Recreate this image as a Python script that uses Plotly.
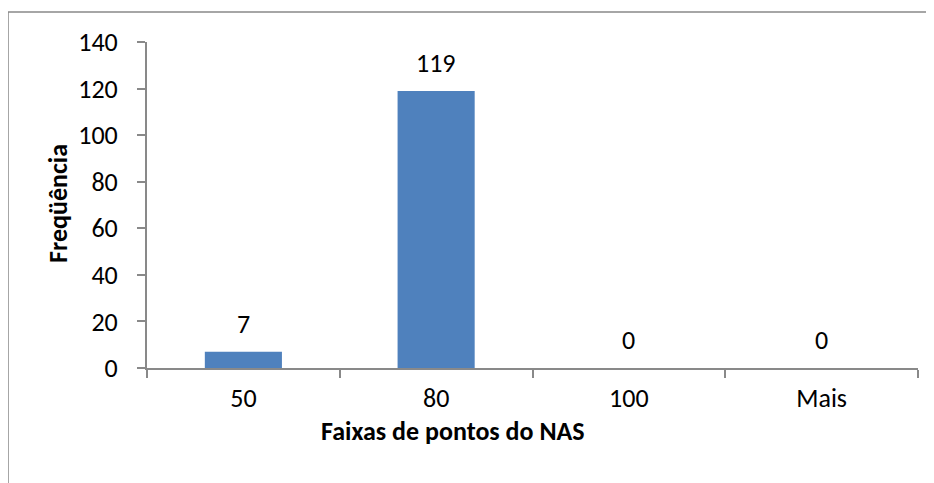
import plotly.graph_objects as go

categorias = ["50", "80", "100", "Mais"]
frequencia = [7, 119, 0, 0]
y_ticks = [0, 20, 40, 60, 80, 100, 120, 140]

FONTE = "Carlito, Lato, 'Open Sans', sans-serif"
CINZA = "#898989"

# área do gráfico (em pixels da figura; a página tem 8px de margem no body)
L, T, W, H = 139, 34, 771, 326

fig = go.Figure()

fig.add_trace(go.Bar(
    x=categorias,
    y=frequencia,
    marker=dict(color="#4F81BD", line=dict(width=0)),
    showlegend=False,
    hoverinfo="x+y"
))

# rótulos de dados acima das barras (x pelo índice da categoria)
for i, v in enumerate(frequencia):
    fig.add_annotation(
        x=i, y=v, text=str(v), showarrow=False,
        yanchor="bottom", yshift=10,
        font=dict(size=26, color="black", family=FONTE)
    )

# títulos dos eixos
fig.add_annotation(
    xref="paper", yref="paper", x=(453 - 147) / W, y=-(431 - 368) / H,
    text="<b>Faixas de pontos do NAS</b>", showarrow=False,
    xanchor="center", yanchor="middle",
    font=dict(size=26, color="black", family=FONTE)
)
fig.add_annotation(
    xref="paper", yref="paper", x=-(147 - 58) / W, y=(368 - 204) / H,
    text="<b>Freqüência</b>", showarrow=False, textangle=-90,
    xanchor="center", yanchor="middle",
    font=dict(size=26, color="black", family=FONTE)
)

# borda do gráfico
fig.add_shape(
    type="rect", xref="paper", yref="paper",
    x0=-L / W, x1=1.2, y0=-0.6, y1=1 + 30 / H,
    line=dict(color=CINZA, width=1.5), layer="below"
)

fig.update_layout(
    width=934, height=483,
    margin=dict(l=L, r=934 - L - W, t=T, b=483 - T - H),
    paper_bgcolor="white", plot_bgcolor="white",
    bargap=0.6,
    font=dict(family=FONTE, size=26, color="black"),
    xaxis=dict(
        type="category", range=[-0.5, 3.5], tickangle=0,
        showline=True, linecolor=CINZA, linewidth=2,
        ticks="outside", tickson="boundaries", ticklen=8, tickcolor=CINZA, tickwidth=2,
        ticklabelstandoff=6,
        showgrid=False, zeroline=False
    ),
    yaxis=dict(
        range=[0, 140], tickvals=y_ticks,
        showline=True, linecolor=CINZA, linewidth=2,
        ticks="outside", ticklen=8, tickcolor=CINZA, tickwidth=2,
        ticklabelstandoff=14,
        showgrid=False, zeroline=False
    )
)

fig.write_html("out.html")
